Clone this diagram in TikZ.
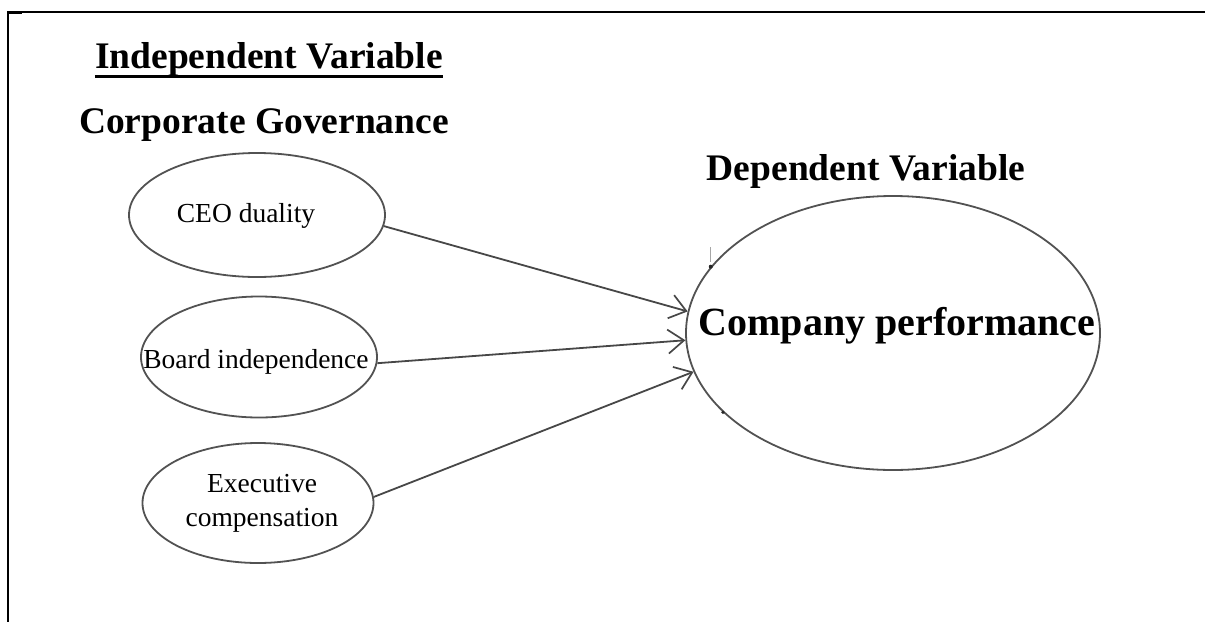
\documentclass[tikz,border=0pt]{standalone}
\usepackage{fontspec}
\setmainfont{Liberation Serif}
\usetikzlibrary{shapes.geometric,arrows.meta}

\begin{document}
\begin{tikzpicture}[x=1pt,y=-1pt,
  heading/.style={font=\fontsize{37.5}{42}\selectfont\bfseries, anchor=base, inner sep=0pt},
  oval/.style={ellipse, draw=black!68, line width=1.8pt, inner sep=0pt},
  smalltext/.style={font=\fontsize{27.5}{34}\selectfont, anchor=base, inner sep=0pt, align=center},
  link/.style={draw=black!72, line width=1.8pt,
    -{Straight Barb[length=16pt, width=24pt, line width=1.7pt]}}
]
\useasboundingbox (0,0) rectangle (1205,622);

% frame of the cell
\draw[line width=1.3pt] (8,12) -- (1205,12);
\draw[line width=2pt] (8,11.4) -- (8,622);
\draw[line width=2.6pt] (8,12.4) -- (22,12.4);

% headings
\node[heading] (ind) at (269,68) {Independent Variable};
\draw[line width=2.4pt] ([yshift=-8.5pt]ind.base west) -- ([yshift=-8.5pt]ind.base east);
\node[heading] (cg) at (264,133) {Corporate Governance};
\node[heading] (dep) at (866,180) {Dependent Variable};

% independent variables
\node[oval, minimum width=256pt, minimum height=124pt] (ceo) at (257,215) {};
\node[smalltext] (ceot) at (246,222) {CEO duality};

\node[oval, minimum width=236pt, minimum height=121pt] (board) at (259,357) {};
\node[smalltext] (boardt) at (256,368) {Board independence};

\node[oval, minimum width=231pt, minimum height=120pt] (exec) at (258,503) {};
\node[smalltext, anchor=center] (exect) at (262,503) {Executive\\compensation};

% dependent variable
\node[oval, minimum width=414pt, minimum height=274pt] (perf) at (893,333) {};
\node[heading, font=\fontsize{40}{44}\selectfont\bfseries] (perft) at (897,335) {Company performance};

% small marks on the outline
\fill[black!85] (perf.160.3) circle (2pt);
\fill[black!85] (perf.205) circle (1.8pt);
\draw[black!35, line width=0.6pt] (710,247) -- (710,262);

% relations
\draw[link] (ceo.-5.5) -- (perf.174.4);
\draw[link] (board.-3) -- (perf.182.8);
\draw[link] (exec.3) -- (perf.191.6);
\end{tikzpicture}
\end{document}
